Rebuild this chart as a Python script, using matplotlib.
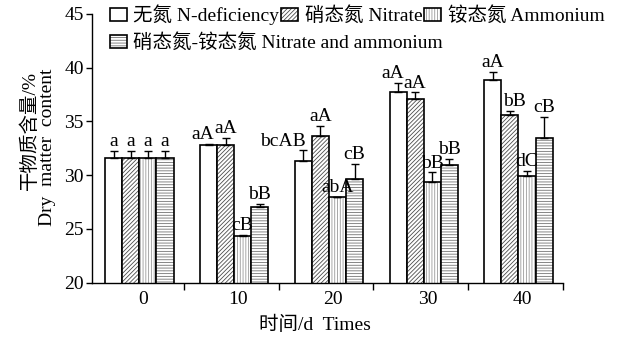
import numpy as np
import matplotlib
matplotlib.use('Agg')
import matplotlib.pyplot as plt

plt.rcParams['font.family'] = ['Liberation Serif', 'Noto Sans CJK SC']
plt.rcParams['font.size'] = 14
plt.rcParams['hatch.linewidth'] = 0.6

# data
times = ['0', '10', '20', '30', '40']
series = ['无氮 N-deficiency', '硝态氮 Nitrate', '铵态氮 Ammonium',
          '硝态氮-铵态氮 Nitrate and ammonium']

n_def = [31.6, 32.8, 31.3, 37.7, 38.9]
nitrate = [31.6, 32.8, 33.6, 37.1, 35.6]
ammonium = [31.6, 24.3, 28.0, 29.4, 29.9]
nit_amm = [31.6, 27.0, 29.6, 30.9, 33.5]

err_n_def = [0.65, 0.1, 1.0, 0.85, 0.7]
err_nitrate = [0.65, 0.7, 1.0, 0.6, 0.4]
err_ammonium = [0.65, 0.15, 0.0, 0.85, 0.5]
err_nit_amm = [0.65, 0.3, 1.45, 0.6, 1.9]

sig_n_def = ['a', 'aA', 'bcAB', 'aA', 'aA']
sig_nitrate = ['a', 'aA', 'aA', 'aA', 'bB']
sig_ammonium = ['a', 'cB', 'abA', 'bB', 'dC']
sig_nit_amm = ['a', 'bB', 'cB', 'bB', 'cB']

values = [n_def, nitrate, ammonium, nit_amm]
errors = [err_n_def, err_nitrate, err_ammonium, err_nit_amm]
letters = [sig_n_def, sig_nitrate, sig_ammonium, sig_nit_amm]

# styles
hatches = ['', '////////', '||||||', '------']
hatch_colors = ['white', '0.3', '0.6', '0.45']
nudge = {(0, 1): -4, (0, 2): -15, (0, 3): -4, (1, 4): 3}  # label shifts, points

fig = plt.figure(figsize=(6.31, 3.38), dpi=100)
ax = fig.add_axes([92 / 631, 55.5 / 338, 471 / 631, 268.5 / 338])

x = np.arange(len(times))
w = 0.18
handles = []
for i in range(4):
    pos = x + (i - 1.5) * w
    hb = ax.bar(pos, values[i], w, color='white', edgecolor=hatch_colors[i],
                hatch=hatches[i], linewidth=0)
    ob = ax.bar(pos, values[i], w, fill=False, edgecolor='black', linewidth=1.2)
    ax.errorbar(pos, values[i], yerr=[np.zeros(5), errors[i]], fmt='none',
                ecolor='black', elinewidth=1.0, capsize=3, capthick=1.0)
    handles.append((hb[0], ob[0]))
    for j in range(5):
        ax.annotate(letters[i][j], (pos[j], values[i][j] + errors[i][j]),
                    xytext=(nudge.get((i, j), 0), 3.5), textcoords='offset points',
                    ha='center', va='baseline', fontsize=14)

ax.set_ylim(20, 45)
ax.set_yticks(np.arange(20, 46, 5))
ax.set_xlim(-0.5, 4.47)
ax.set_xticks(x + 0.04)
ax.set_xticklabels(times)
ax.set_xticks(x + 0.47, minor=True)
ax.tick_params(axis='x', which='major', length=0, pad=6)
ax.tick_params(axis='x', which='minor', length=5, width=1, direction='out')
ax.tick_params(axis='y', length=4, width=1, direction='out', pad=2)
for s in ['top', 'right']:
    ax.spines[s].set_visible(False)
for s in ['left', 'bottom']:
    ax.spines[s].set_linewidth(1.0)

leg_kw = dict(frameon=False, loc='center left', borderaxespad=0, borderpad=0,
              handlelength=0.85, handleheight=0.7, handletextpad=0.35,
              fontsize=14, bbox_transform=fig.transFigure)
leg1 = ax.legend(handles[:3], series[:3], ncol=3, columnspacing=0.1,
                 bbox_to_anchor=(110 / 631, 1 - 15 / 338), **leg_kw)
ax.add_artist(leg1)
ax.legend(handles[3:], series[3:], bbox_to_anchor=(110 / 631, 1 - 43 / 338), **leg_kw)

fig.text(30 / 631, 1 - 131 / 338, '干物质含量/%', rotation=90, ha='center', va='center')
fig.text(47 / 631, 1 - 147 / 338, 'Dry  matter  content', rotation=90, ha='center', va='center')
fig.text(315 / 631, 1 - 325 / 338, '时间/d  Times', ha='center', va='center')

fig.savefig('out.png', dpi=100)
